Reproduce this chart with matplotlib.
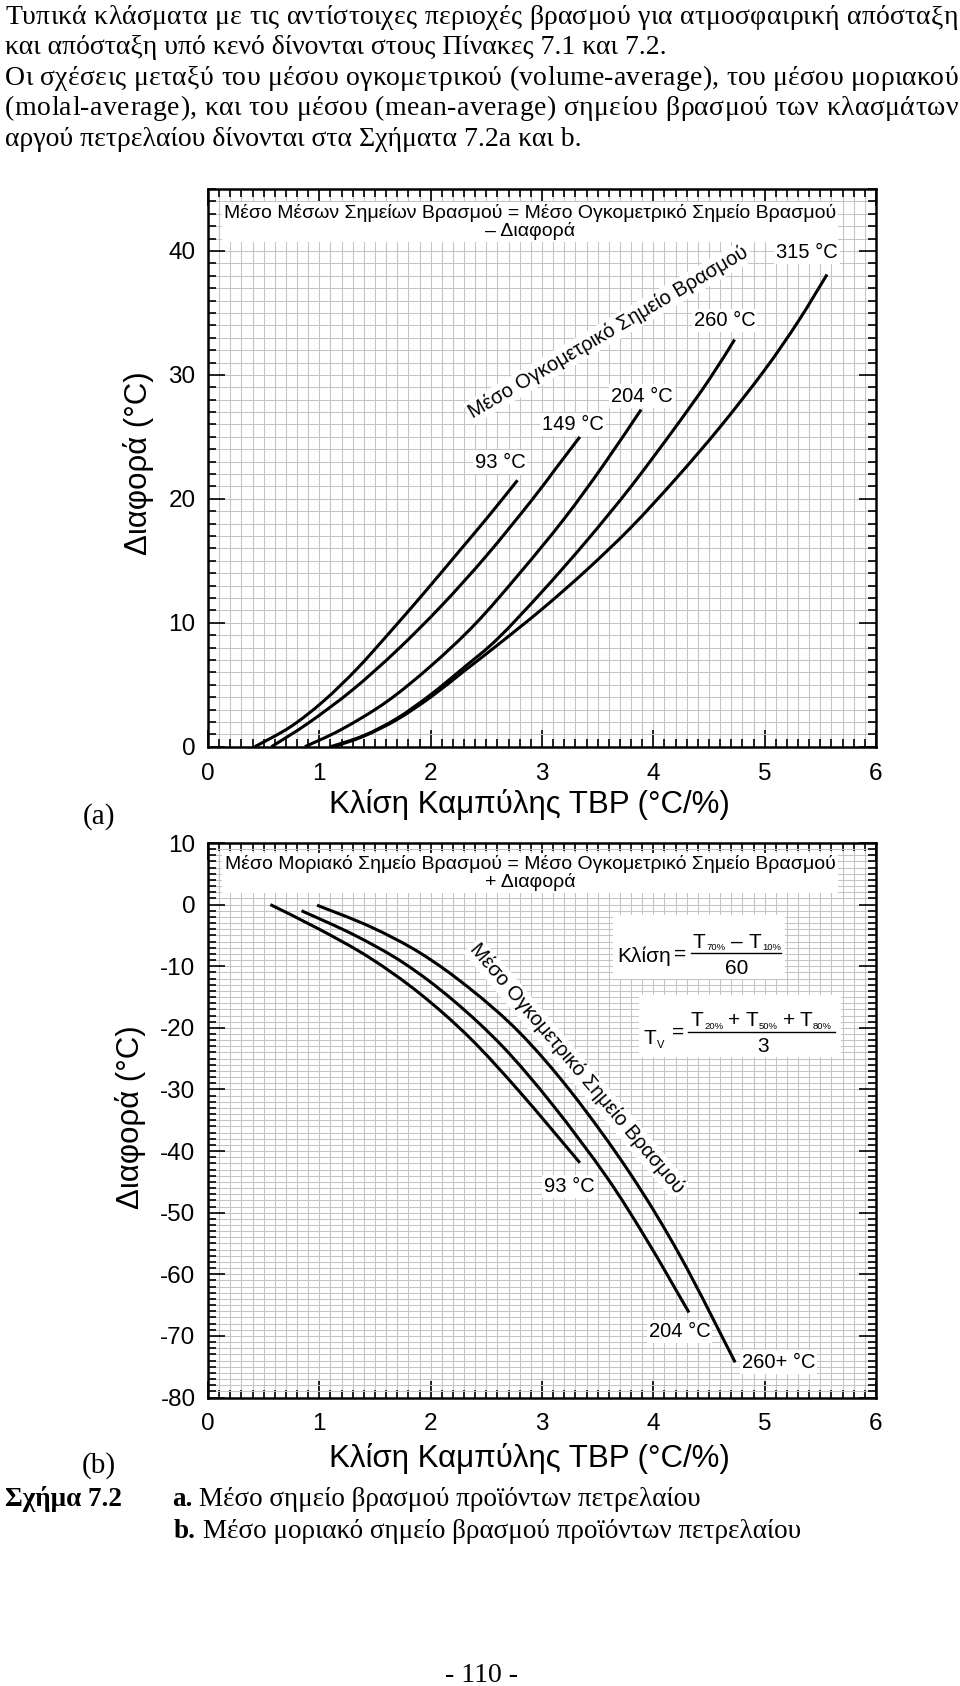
import matplotlib
matplotlib.use('Agg')
import matplotlib.pyplot as plt
from matplotlib.ticker import MultipleLocator
from matplotlib.patches import Rectangle, PathPatch
from matplotlib.path import Path
from matplotlib.lines import Line2D
from matplotlib.font_manager import FontProperties

SANS = ['Liberation Sans', 'DejaVu Sans']
SERIF = ['Liberation Serif', 'DejaVu Serif']
plt.rcParams['font.family'] = SANS
plt.rcParams['axes.unicode_minus'] = False

# ---------------- data ----------------
# Panel (a): mean-average BP difference vs TBP slope
a93_x = [0.42, 0.74, 1.04, 1.34, 1.64, 1.94, 2.24, 2.52, 2.78]
a93_y = [0.0, 1.6, 3.7, 6.3, 9.3, 12.4, 15.6, 18.6, 21.5]
a149_x = [0.57, 0.90, 1.30, 1.70, 2.10, 2.50, 2.90, 3.12, 3.34]
a149_y = [0.0, 1.9, 4.6, 7.8, 11.4, 15.4, 19.8, 22.4, 25.0]
a204_x = [0.87, 1.20, 1.60, 2.00, 2.40, 2.80, 3.20, 3.55, 3.89]
a204_y = [0.0, 1.4, 3.6, 6.5, 9.9, 14.0, 18.4, 22.7, 27.2]
a260_x = [1.10, 1.40, 1.70, 2.00, 2.30, 2.60, 3.00, 3.40, 3.80, 4.20, 4.50, 4.73]
a260_y = [0.0, 0.9, 2.3, 4.2, 6.4, 8.7, 12.5, 16.6, 21.0, 25.8, 29.6, 32.85]
a315_x = [1.13, 1.40, 1.70, 2.00, 2.30, 2.60, 3.00, 3.40, 3.80, 4.20, 4.60, 5.00, 5.30, 5.56]
a315_y = [0.0, 0.85, 2.2, 4.0, 6.1, 8.2, 11.1, 14.25, 17.7, 21.6, 25.8, 30.4, 34.3, 38.1]

# Panel (b): molal-average BP difference vs TBP slope
b93_x = [0.56, 1.00, 1.45, 1.90, 2.35, 2.80, 3.34]
b93_y = [0.0, -4.0, -8.6, -14.4, -21.6, -30.4, -41.9]
b204_x = [0.84, 1.31, 1.76, 2.20, 2.65, 3.10, 3.58, 3.94, 4.32]
b204_y = [-1.0, -4.9, -9.5, -15.5, -23.1, -32.6, -44.2, -54.4, -66.2]
b260_x = [0.98, 1.46, 1.91, 2.35, 2.80, 3.27, 3.79, 4.24, 4.735]
b260_y = [-0.1, -3.6, -7.9, -13.6, -20.8, -30.6, -43.6, -57.0, -74.3]

a_labels = ['93 °C', '149 °C', '204 °C', '260 °C', '315 °C']
b_labels = ['93 °C', '204 °C', '260+ °C']

para_lines = [
    'Τυπικά κλάσματα με τις αντίστοιχες περιοχές βρασμού για ατμοσφαιρική απόσταξη',
    'και απόσταξη υπό κενό δίνονται στους Πίνακες 7.1 και 7.2.',
    'Οι σχέσεις μεταξύ του μέσου ογκομετρικού (volume-average), του μέσου μοριακού',
    '(molal-average), και του μέσου (mean-average) σημείου βρασμού των κλασμάτων',
    'αργού πετρελαίου δίνονται στα Σχήματα 7.2a και b.',
]
para_justify = [True, False, True, True, False]

# ---------------- figure ----------------
W, H, DPI = 960, 1686, 100
fig = plt.figure(figsize=(W / DPI, H / DPI), dpi=DPI)
fig.patch.set_facecolor('white')
renderer = fig.canvas.get_renderer()


def fx(x):
    return x / W


def fy(y):
    return 1 - y / H


def axes_px(left, top, right, bottom):
    return fig.add_axes([fx(left), fy(bottom), (right - left) / W, (bottom - top) / H])


def style(ax, ymin, ymax):
    ax.set_xlim(0, 6)
    ax.set_ylim(ymin, ymax)
    ax.xaxis.set_major_locator(MultipleLocator(1))
    ax.xaxis.set_minor_locator(MultipleLocator(0.1))
    ax.yaxis.set_major_locator(MultipleLocator(10))
    ax.yaxis.set_minor_locator(MultipleLocator(1))
    ax.grid(which='both', color='#c4c4c4', lw=0.75)
    ax.set_axisbelow(True)
    ax.tick_params(which='both', direction='in', top=True, right=True,
                   width=1.2, color='black')
    ax.tick_params(which='major', length=12)
    ax.tick_params(which='minor', length=6)
    ax.tick_params(axis='y', labelsize=17.5, pad=9)
    ax.tick_params(axis='x', labelsize=17.5, pad=11.5)
    for s in ax.spines.values():
        s.set_linewidth(1.8)


def smooth_curve(ax, xs, ys, lw=2.2):
    """Smooth black curve through the read points (Catmull-Rom as cubic Bezier)."""
    pts = list(zip(xs, ys))
    n = len(pts)
    verts = [pts[0]]
    codes = [Path.MOVETO]
    for i in range(n - 1):
        p0 = pts[i - 1] if i > 0 else pts[i]
        p1 = pts[i]
        p2 = pts[i + 1]
        p3 = pts[i + 2] if i + 2 < n else pts[i + 1]
        c1 = (p1[0] + (p2[0] - p0[0]) / 6, p1[1] + (p2[1] - p0[1]) / 6)
        c2 = (p2[0] - (p3[0] - p1[0]) / 6, p2[1] - (p3[1] - p1[1]) / 6)
        verts += [c1, c2, p2]
        codes += [Path.CURVE4] * 3
    ax.add_patch(PathPatch(Path(verts, codes), fill=False, lw=lw, edgecolor='black',
                           capstyle='butt', joinstyle='round', zorder=3))


axa = axes_px(208, 189, 876, 746.7)
axb = axes_px(208, 843, 876, 1397.5)
style(axa, 0, 45)
style(axb, -80, 10)

for xs, ys in [(a93_x, a93_y), (a149_x, a149_y), (a204_x, a204_y),
               (a260_x, a260_y), (a315_x, a315_y)]:
    smooth_curve(axa, xs, ys)
for xs, ys in [(b93_x, b93_y), (b204_x, b204_y), (b260_x, b260_y)]:
    smooth_curve(axb, xs, ys)

WB = dict(facecolor='white', edgecolor='none', pad=1.5)


def ftext(x, y, s, **kw):
    return fig.text(fx(x), fy(y), s, **kw)


def text_w(s, prop):
    return renderer.get_text_width_height_descent(s, prop, ismath=False)[0]


# titles inside panels
ftext(530, 222, 'Μέσο Μέσων Σημείων Βρασμού = Μέσο Ογκομετρικό Σημείο Βρασμού\n– Διαφορά',
      ha='center', va='center', fontsize=14, linespacing=1.05, bbox=WB)
ftext(530, 873, 'Μέσο Μοριακό Σημείο Βρασμού = Μέσο Ογκομετρικό Σημείο Βρασμού\n+ Διαφορά',
      ha='center', va='center', fontsize=14, linespacing=1.05, bbox=WB)

# curve labels panel (a)
for s, (x, y) in zip(a_labels, [(500, 462), (573, 424.5), (641.8, 396),
                               (724.6, 320.4), (807.3, 252.6)]):
    ftext(x, y, s, ha='center', va='center', fontsize=14.5, bbox=WB)
ftext(608.5, 332, 'Μέσο Ογκομετρικό Σημείο Βρασμού', ha='center', va='center',
      fontsize=14.5, rotation=30.5, rotation_mode='anchor', bbox=WB)

# curve labels panel (b)
for s, (x, y) in zip(b_labels, [(569.8, 1186.8), (679.4, 1331.5), (778.3, 1362)]):
    ftext(x, y, s, ha='center', va='center', fontsize=14.5, bbox=WB)
ftext(576.7, 1068.5, 'Μέσο Ογκομετρικό Σημείο Βρασμού', ha='center', va='center',
      fontsize=14.5, rotation=-49.8, rotation_mode='anchor', bbox=WB)

# formula boxes
for (x0, y0, x1, y1) in [(613, 915, 785, 978.5), (638.5, 995, 841, 1057)]:
    fig.add_artist(Rectangle((fx(x0), fy(y1)), (x1 - x0) / W, (y1 - y0) / H,
                             transform=fig.transFigure, facecolor='white',
                             edgecolor='none', zorder=2))


def compose(xc, base, parts):
    """parts: (text, size, dy, gap_after) placed left to right, centred on xc."""
    ws = [text_w(s, FontProperties(family=SANS, size=sz)) for s, sz, dy, g in parts]
    total = sum(ws) + sum(p[3] for p in parts[:-1])
    x = xc - total / 2
    for (s, sz, dy, g), w in zip(parts, ws):
        ftext(x, base + dy, s, ha='left', va='baseline', fontsize=sz, zorder=3)
        x += w + g


FS, SS = 15, 6.8
ftext(617, 962.5, 'Κλίση', ha='left', va='baseline', fontsize=FS, zorder=3)
ftext(680, 954, '=', ha='center', va='center', fontsize=FS, zorder=3)
fig.add_artist(Line2D([fx(691), fx(781)], [fy(952.7), fy(952.7)], color='black',
                      lw=1.0, transform=fig.transFigure, zorder=3))
compose(737, 947.5, [('T', FS, 0, 0.5), ('70%', SS, 2.5, 6), ('–', FS, 0, 6),
                     ('T', FS, 0, 0.5), ('10%', SS, 2.5, 0)])
ftext(736.7, 974, '60', ha='center', va='baseline', fontsize=FS, zorder=3)

compose(654, 1044.5, [('T', FS, 0, 0.5), ('V', 8, 4, 0)])
ftext(678, 1032, '=', ha='center', va='center', fontsize=FS, zorder=3)
fig.add_artist(Line2D([fx(688), fx(835)], [fy(1031.7), fy(1031.7)], color='black',
                      lw=1.0, transform=fig.transFigure, zorder=3))
compose(761.5, 1026.5, [('T', FS, 0, 0.5), ('20%', SS, 2.5, 5), ('+', FS, 0, 5),
                        ('T', FS, 0, 0.5), ('50%', SS, 2.5, 5), ('+', FS, 0, 5),
                        ('T', FS, 0, 0.5), ('80%', SS, 2.5, 0)])
ftext(763, 1052.5, '3', ha='center', va='baseline', fontsize=FS, zorder=3)

# axis labels
for (x, y) in [(529, 804), (529, 1459)]:
    ftext(x, y, 'Κλίση Καμπύλης TBP (°C/%)', ha='center', va='center', fontsize=22.5)
ftext(139, 463, 'Διαφορά (°C)', ha='center', va='center', fontsize=22.5, rotation=90)
ftext(131, 1117, 'Διαφορά (°C)', ha='center', va='center', fontsize=22.5, rotation=90)


# page text (serif)
def place_line(text, y, x0, x1, justify, size, weight='normal'):
    if not justify:
        ftext(x0, y, text, ha='left', va='baseline', family=SERIF, fontsize=size,
              weight=weight)
        return
    prop = FontProperties(family=SERIF, size=size, weight=weight)
    total = text_w(text, prop)
    extra = (x1 - x0 - total) / (len(text) - 1)
    for i, ch in enumerate(text):
        if ch == ' ':
            continue
        start = text_w(text[:i + 1], prop) - text_w(ch, prop)
        ftext(x0 + start + i * extra, y, ch, ha='left', va='baseline', family=SERIF,
              fontsize=size, weight=weight)


for i, (line, just) in enumerate(zip(para_lines, para_justify)):
    place_line(line, 24 + 30.4 * i, 5, 958, just, 20)

ftext(99, 824, '(a)', ha='center', va='baseline', family=SERIF, fontsize=21)
ftext(99, 1473, '(b)', ha='center', va='baseline', family=SERIF, fontsize=21)
ftext(5, 1505.5, 'Σχήμα 7.2', ha='left', va='baseline', family=SERIF, fontsize=19.5,
      weight='bold')
cap_prop_b = FontProperties(family=SERIF, size=19.5, weight='bold')
cap_prop = FontProperties(family=SERIF, size=19.5)
sp = text_w('a b', cap_prop) - text_w('ab', cap_prop)
for (x0, y0, lab, rest) in [(172, 1505.5, 'a.', 'Μέσο σημείο βρασμού προϊόντων πετρελαίου'),
                            (174, 1538, 'b.', 'Μέσο μοριακό σημείο βρασμού προϊόντων πετρελαίου')]:
    ftext(x0, y0, lab, ha='left', va='baseline', family=SERIF, fontsize=19.5, weight='bold')
    ftext(x0 + text_w(lab, cap_prop_b) + sp, y0, rest, ha='left', va='baseline',
          family=SERIF, fontsize=19.5)
ftext(481.6, 1682, '- 110 -', ha='center', va='baseline', family=SERIF, fontsize=20)

fig.savefig('out.png', dpi=DPI, facecolor='white')
